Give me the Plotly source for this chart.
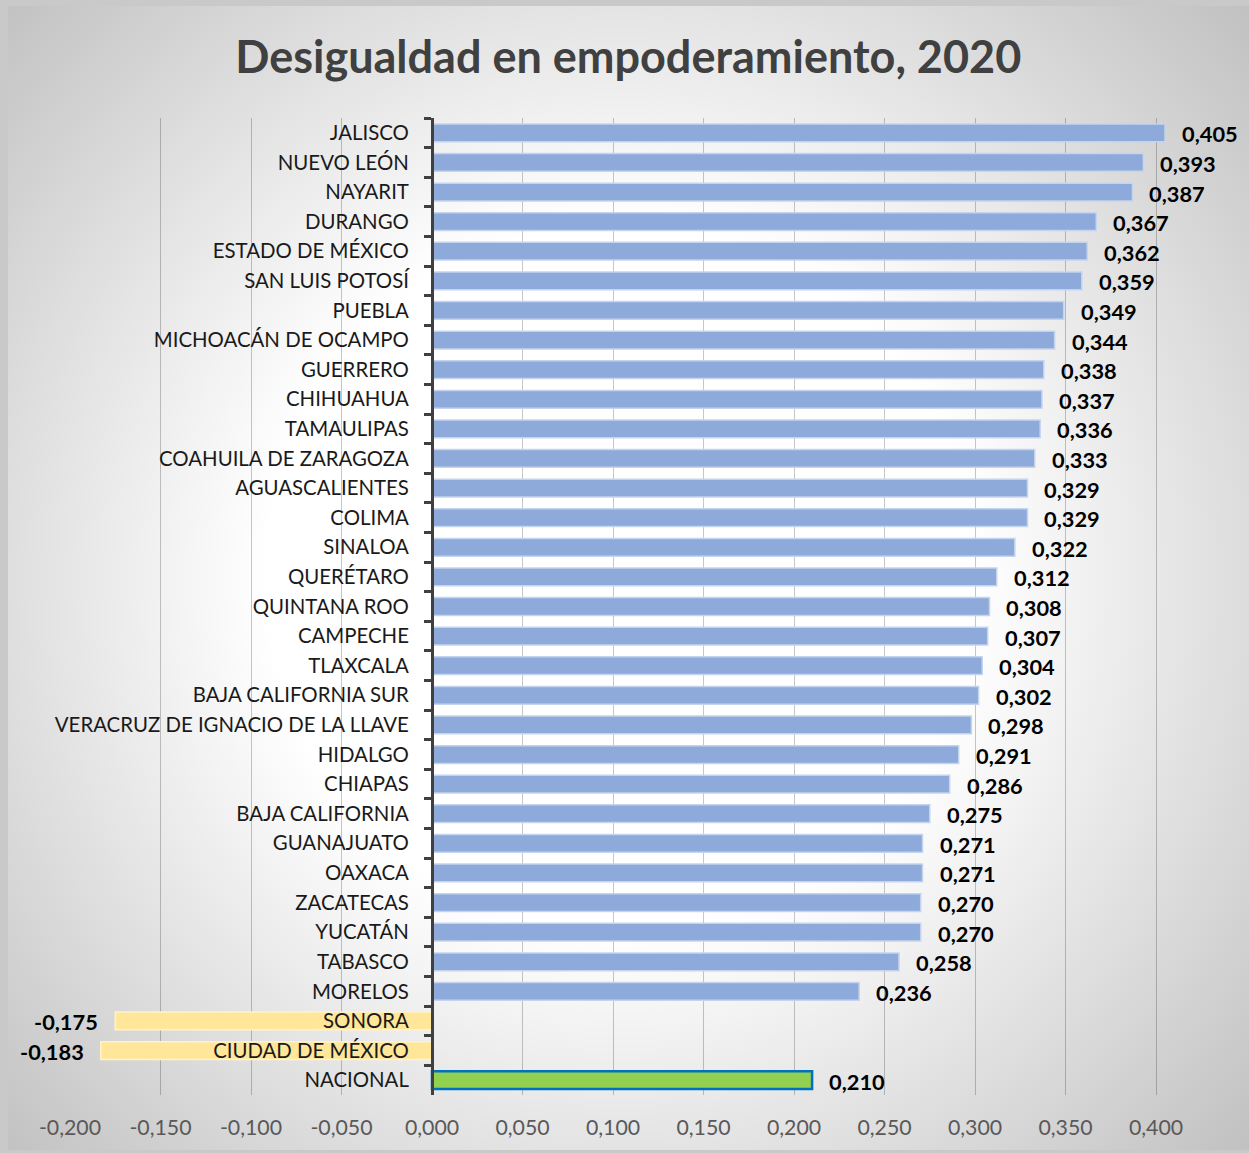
import base64
import plotly.graph_objects as go

# ---------------- data ----------------
categories = [
    "JALISCO", "NUEVO LEÓN", "NAYARIT", "DURANGO", "ESTADO DE MÉXICO",
    "SAN LUIS POTOSÍ", "PUEBLA", "MICHOACÁN DE OCAMPO", "GUERRERO", "CHIHUAHUA",
    "TAMAULIPAS", "COAHUILA DE ZARAGOZA", "AGUASCALIENTES", "COLIMA", "SINALOA",
    "QUERÉTARO", "QUINTANA ROO", "CAMPECHE", "TLAXCALA", "BAJA CALIFORNIA SUR",
    "VERACRUZ DE IGNACIO DE LA LLAVE", "HIDALGO", "CHIAPAS", "BAJA CALIFORNIA",
    "GUANAJUATO", "OAXACA", "ZACATECAS", "YUCATÁN", "TABASCO", "MORELOS",
    "SONORA", "CIUDAD DE MÉXICO", "NACIONAL",
]
values = [
    0.405, 0.393, 0.387, 0.367, 0.362,
    0.359, 0.349, 0.344, 0.338, 0.337,
    0.336, 0.333, 0.329, 0.329, 0.322,
    0.312, 0.308, 0.307, 0.304, 0.302,
    0.298, 0.291, 0.286, 0.275,
    0.271, 0.271, 0.270, 0.270, 0.258, 0.236,
    -0.175, -0.183, 0.210,
]
national_label = "NACIONAL"
tick_values = [-0.2, -0.15, -0.1, -0.05, 0.0, 0.05, 0.1, 0.15, 0.2, 0.25, 0.3, 0.35, 0.4]
tick_labels = ["-0,200", "-0,150", "-0,100", "-0,050", "0,000", "0,050", "0,100",
               "0,150", "0,200", "0,250", "0,300", "0,350", "0,400"]
title_text = "Desigualdad en empoderamiento, 2020"

# ---------------- styling ----------------
W, H = 1249, 1153
FONT = "Lato, 'Open Sans', sans-serif"
x_range = [-0.2, 0.45]
x_dom = [70 / W, 1246.5 / W]
y_dom = [1 - 1095 / H, 1 - 118 / H]

fill, line = [], []
for c, v in zip(categories, values):
    if c == national_label:
        fill.append("#92D050"); line.append("#0070C0")
    elif v < 0:
        fill.append("#FFE699"); line.append("#FFF2CC")
    else:
        fill.append("#8EAADB"); line.append("#C5D4EE")
line_w = [2.5 if c == national_label else 1.5 for c in categories]

fig = go.Figure()
fig.add_trace(go.Bar(
    y=categories, x=values, orientation="h", width=0.6,
    marker=dict(color=fill, line=dict(color=line, width=line_w)),
    hoverinfo="skip", showlegend=False,
))

# value labels
for c, v in zip(categories, values):
    txt = ("-" if v < 0 else "") + f"{abs(v):.3f}".replace(".", ",")
    fig.add_annotation(
        x=v, y=c, xref="x", yref="y", text=txt, showarrow=False,
        xanchor="right" if v < 0 else "left",
        xshift=-15 if v < 0 else 15, yshift=-1,
        font=dict(family=FONT, size=21.8, color="#000000", weight="bold"),
    )

# radial gradient background
gw, gh = W - 8, H - 3 - 6
svg = f'''<svg xmlns="http://www.w3.org/2000/svg" width="{gw}" height="{gh}" preserveAspectRatio="none">
<defs><radialGradient id="g" gradientUnits="userSpaceOnUse" cx="612" cy="572" r="880">
<stop offset="0" stop-color="#FFFFFF"/><stop offset="0.4" stop-color="#FFFFFF"/>
<stop offset="1" stop-color="#BDBDBD"/></radialGradient></defs>
<rect x="0" y="0" width="{gw}" height="{gh}" fill="url(#g)"/></svg>'''
src = "data:image/svg+xml;base64," + base64.b64encode(svg.encode()).decode()

zero_pos = x_dom[0] + (0 - x_range[0]) / (x_range[1] - x_range[0]) * (x_dom[1] - x_dom[0])

fig.update_layout(
    width=W, height=H,
    margin=dict(l=0, r=0, t=0, b=0, pad=0, autoexpand=False),
    paper_bgcolor="#C9C9C9",
    plot_bgcolor="rgba(0,0,0,0)",
    images=[dict(source=src, xref="paper", yref="paper", x=8 / W, y=1 - 6 / H,
                 sizex=gw / W, sizey=gh / H, sizing="stretch",
                 xanchor="left", yanchor="top", layer="below")],
    title=dict(text=title_text, x=0.503, xanchor="center", y=1 - 57 / H, yanchor="middle",
               font=dict(family=FONT, size=45, color="#404040", weight="bold")),
    bargap=0.4,
    xaxis=dict(
        domain=x_dom, range=x_range, tickvals=tick_values, ticktext=tick_labels,
        showgrid=True, gridcolor="rgba(0,0,0,0.22)", gridwidth=1.2,
        zeroline=False, showline=False, ticks="", automargin=False,
        tickfont=dict(family=FONT, size=21.3, color="#595959"),
        ticklabelstandoff=18, fixedrange=True,
    ),
    yaxis=dict(
        domain=y_dom, range=[len(categories) - 0.5, -0.5],
        anchor="free", position=zero_pos, automargin=False,
        showline=True, linecolor="#404040", linewidth=3,
        ticks="outside", tickson="boundaries", ticklen=7, tickwidth=2.5,
        tickcolor="#404040", showgrid=False, zeroline=False,
        tickfont=dict(family=FONT, size=20.4, color="#1A1A1A"),
        ticklabelstandoff=18, fixedrange=True,
    ),
)

fig.write_html("out.html")
